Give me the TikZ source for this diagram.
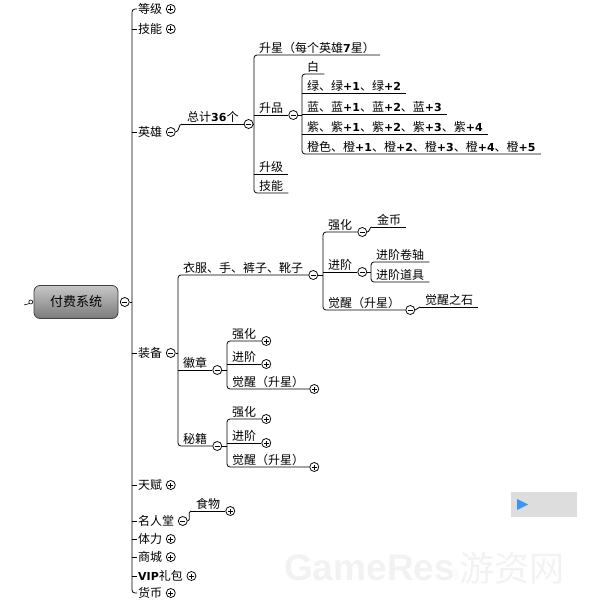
\documentclass[tikz,border=0pt]{standalone}
\usepackage{fontspec}
\setmainfont{Noto Sans CJK SC}
\newfontfamily\numfont{DejaVu Sans}
\newfontfamily\markfont{Liberation Sans}
\usetikzlibrary{positioning}

\definecolor{panelgray}{HTML}{DDDDDD}
\definecolor{playblue}{HTML}{3A96F0}
\newcommand{\bnum}[1]{{\numfont\bfseries\fontsize{11}{13}\selectfont #1}}

\begin{document}
\begin{tikzpicture}[x=1pt, y=-1pt,
    every node/.style={font=\fontsize{12}{14}\selectfont},
    link/.style={line width=0.8pt},
    topic/.style={anchor=south west, inner xsep=5pt, inner ysep=1.5pt},
    item/.style={anchor=west, inner xsep=1pt, inner ysep=1pt},
    fold/.style={circle, draw, fill=white, line width=0.75pt, minimum size=9pt, inner sep=0pt},
    minus/.style={fold, path picture={
        \draw[line width=0.75pt] ([xshift=2pt]path picture bounding box.west) -- ([xshift=-2pt]path picture bounding box.east);}},
    plus/.style={fold, path picture={
        \draw[line width=0.75pt] ([xshift=2pt]path picture bounding box.west) -- ([xshift=-2pt]path picture bounding box.east);
        \draw[line width=0.75pt] ([yshift=-2pt]path picture bounding box.north) -- ([yshift=2pt]path picture bounding box.south);}},
    root/.style={draw=black!75, line width=0.8pt, rounded corners=6pt, top color=black!22, bottom color=black!52,
        minimum width=84pt, minimum height=33pt, font=\fontsize{13}{15}\selectfont}
  ]
    \useasboundingbox (0,0) rectangle (588,601);

    % Root
    \node[root] (root) at (76,302) {付费系统};
    \node[minus, right=1.5pt of root] (root-c) {};
    \node[fold, minimum size=4pt, line width=0.6pt, left=0.5pt of root] (root-in) {};
    \coordinate (stub) at (24,305);
    \draw[line width=0.6pt] (stub) -- (root-in.south west);
    \coordinate (trunk) at (132,302);
    \draw[link] (root-c) -- (root-c -| trunk);

    % Level 1
    \node[item] (dengji) at (137,9) {等级};
    \node[item] (jineng) at (137,29) {技能};
    \node[item] (yingxiong) at (137,132) {英雄};
    \node[item] (zhuangbei) at (137,353) {装备};
    \node[item] (tianfu) at (137,485) {天赋};
    \node[item] (mingrentang) at (137,521) {名人堂};
    \node[item] (tili) at (137,539) {体力};
    \node[item] (shangcheng) at (137,557) {商城};
    \node[item] (vip) at (137,576) {\bnum{VIP}礼包};
    \node[item] (huobi) at (137,593) {货币};
    \foreach \n in {dengji, jineng, tianfu, tili, shangcheng, vip, huobi}
        \node[plus, right=2.5pt of \n] (\n-c) {};
    \foreach \n in {yingxiong, zhuangbei, mingrentang}
        \node[minus, right=2.5pt of \n] (\n-c) {};
    \draw[link, rounded corners=3pt] (dengji.west) -- (dengji.west -| trunk) -- (huobi.west -| trunk) -- (huobi.west);
    \foreach \n in {jineng, yingxiong, zhuangbei, tianfu, mingrentang, tili, shangcheng, vip}
        \draw[link] (\n.west -| trunk) -- (\n.west);

    % Heroes
    \node[topic] (zongji) at (182,124) {总计\bnum{36}个};
    \node[minus, right=0pt of zongji.south east] (zongji-c) {};
    \draw[link] (yingxiong-c.east) to[out=0, in=180] (zongji.south west);
    \node[topic] (shengxing) at (254,55) {升星（每个英雄\bnum{7}星）};
    \node[topic] (shengpin) at (254,115) {升品};
    \node[topic] (shengji) at (254,174) {升级};
    \node[topic] (hjineng) at (254,193) {技能};
    \node[minus, right=0pt of shengpin.south east] (shengpin-c) {};
    \draw[link] (zongji-c.east) -- (zongji-c.east -| shengxing.south west);
    \draw[link, rounded corners=3pt] (shengxing.south east) -- (shengxing.south west) -- (hjineng.south west) -- (hjineng.south east);

    \node[topic] (bai) at (302,74) {白};
    \node[topic] (lv) at (302,93) {绿、绿\bnum{+1}、绿\bnum{+2}};
    \node[topic] (lan) at (302,114) {蓝、蓝\bnum{+1}、蓝\bnum{+2}、蓝\bnum{+3}};
    \node[topic] (zi) at (302,134) {紫、紫\bnum{+1}、紫\bnum{+2}、紫\bnum{+3}、紫\bnum{+4}};
    \node[topic] (cheng) at (302,154) {橙色、橙\bnum{+1}、橙\bnum{+2}、橙\bnum{+3}、橙\bnum{+4}、橙\bnum{+5}};
    \draw[link] (shengpin-c.east) -- (shengpin-c.east -| bai.south west);
    \draw[link, rounded corners=3pt] (bai.south east) -- (bai.south west) -- (cheng.south west) -- (cheng.south east);

    % Equipment
    \node[topic] (yifu) at (178,275) {衣服、手、裤子、靴子};
    \node[topic] (huizhang) at (178,370) {徽章};
    \node[topic] (miji) at (178,446) {秘籍};
    \foreach \n in {yifu, huizhang, miji}
        \node[minus, right=0pt of \n.south east] (\n-c) {};
    \draw[link] (zhuangbei-c.east) -- (zhuangbei-c.east -| yifu.south west);
    \draw[link, rounded corners=3pt] (yifu.south east) -- (yifu.south west) -- (miji.south west) -- (miji.south east);

    \node[topic] (qianghua) at (323,232) {强化};
    \node[topic] (jinjie) at (323,272) {进阶};
    \node[topic] (juexing) at (323,310) {觉醒（升星）};
    \foreach \n in {qianghua, jinjie, juexing}
        \node[minus, right=0pt of \n.south east] (\n-c) {};
    \draw[link] (yifu-c.east) -- (yifu-c.east -| qianghua.south west);
    \draw[link, rounded corners=3pt] (qianghua.south east) -- (qianghua.south west) -- (juexing.south west) -- (juexing.south east);

    \node[topic] (jinbi) at (372,227) {金币};
    \draw[link] (qianghua-c.east) to[out=0, in=180] (jinbi.south west);
    \node[topic] (juanzhou) at (371,262) {进阶卷轴};
    \node[topic] (daoju) at (371,282) {进阶道具};
    \draw[link] (jinjie-c.east) -- (jinjie-c.east -| juanzhou.south west);
    \draw[link, rounded corners=3pt] (juanzhou.south east) -- (juanzhou.south west) -- (daoju.south west) -- (daoju.south east);
    \node[topic] (juexingshi) at (420,307) {觉醒之石};
    \draw[link] (juexing-c.east) to[out=0, in=180] (juexingshi.south west);

    % Badge and manual
    \node[topic] (hz-qh) at (227,341) {强化};
    \node[topic] (hz-jj) at (227,364) {进阶};
    \node[topic] (hz-jx) at (227,389) {觉醒（升星）};
    \node[topic] (mj-qh) at (227,419) {强化};
    \node[topic] (mj-jj) at (227,443) {进阶};
    \node[topic] (mj-jx) at (227,467) {觉醒（升星）};
    \foreach \n in {hz-qh, hz-jj, hz-jx, mj-qh, mj-jj, mj-jx}
        \node[plus, right=0pt of \n.south east] (\n-c) {};
    \draw[link] (huizhang-c.east) -- (huizhang-c.east -| hz-qh.south west);
    \draw[link, rounded corners=3pt] (hz-qh.south east) -- (hz-qh.south west) -- (hz-jx.south west) -- (hz-jx.south east);
    \draw[link] (miji-c.east) -- (miji-c.east -| mj-qh.south west);
    \draw[link, rounded corners=3pt] (mj-qh.south east) -- (mj-qh.south west) -- (mj-jx.south west) -- (mj-jx.south east);

    % Hall of fame
    \node[topic] (shiwu) at (191,511) {食物};
    \node[plus, right=0pt of shiwu.south east] (shiwu-c) {};
    \draw[link] (mingrentang-c.east) to[out=0, in=180] (shiwu.south west);

    % Underlines
    \foreach \n in {zongji, shengpin, shengji, lv, lan, zi, huizhang, jinjie, jinbi,
                    juexingshi, hz-jj, mj-jj, shiwu}
        \draw[link] (\n.south west) -- (\n.south east);

    % Player panel and watermark
    \fill[panelgray] (511,492) rectangle (577,517);
    \fill[playblue] (517,499) -- (528,504.5) -- (517,510) -- cycle;
    \node[anchor=base west, inner sep=0pt, text=black!5, font=\markfont\bfseries\fontsize{37}{39}\selectfont] (mark) at (284,580) {GameRes};
    \node[right=1pt of mark, rotate=-90, inner sep=0pt, text=black!6, font=\markfont\fontsize{6}{7}\selectfont] (markcom) {.com};
    \node[anchor=base west, inner sep=0pt, text=black!5, font=\fontsize{35}{37}\selectfont] (markcn) at (459,581) {游资网};
\end{tikzpicture}
\end{document}
